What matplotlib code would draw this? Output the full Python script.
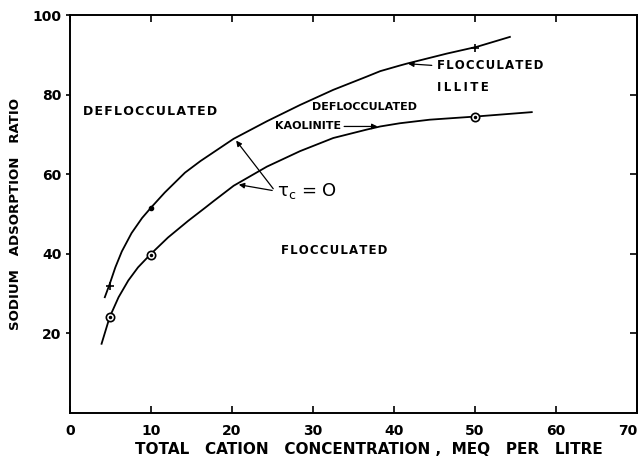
import matplotlib.pyplot as plt

# boundary curves (tau_c = 0)
illite_x = [4.3, 4.9, 5.6, 6.4, 7.6, 8.9, 10.0, 11.7, 14.2, 16.1, 20.2, 24.3, 28.4,
            32.5, 36.6, 38.3, 40.7, 41.6, 46.5, 50.2, 54.3]
illite_y = [29.1, 32.4, 36.6, 40.6, 45.2, 49.0, 51.6, 55.4, 60.4, 63.3, 68.9, 73.3, 77.4,
            81.2, 84.5, 85.9, 87.3, 87.8, 90.3, 92.0, 94.5]
kaolinite_x = [3.9, 4.9, 6.0, 7.2, 8.4, 9.9, 12.1, 14.6, 16.7, 17.7, 20.2, 24.3, 28.4,
               32.5, 36.6, 38.3, 40.7, 44.4, 50.1, 57.0]
kaolinite_y = [17.4, 24.1, 29.1, 33.3, 36.6, 39.8, 44.1, 48.3, 51.6, 53.2, 57.1, 61.9, 65.8,
               69.1, 71.2, 72.0, 72.8, 73.7, 74.5, 75.6]

# measured points
illite_plus_x = [5, 50]
illite_plus_y = [31.8, 91.6]
illite_dot_x = [10]
illite_dot_y = [51.6]
kaolinite_pts_x = [5, 10, 50]
kaolinite_pts_y = [24.1, 39.8, 74.5]

x_ticks = [0, 10, 20, 30, 40, 50, 60, 70]
y_ticks = [20, 40, 60, 80, 100]


def spaced(s, sep='\u200a'):
    # stencil lettering on the original is widely spaced
    return sep.join(s)


plt.rcParams['font.family'] = 'DejaVu Sans'
fig = plt.figure(figsize=(6.39, 4.62), dpi=100)
ax = fig.add_axes([0.1095, 0.106, 0.8875, 0.8615])

ax.plot(illite_x, illite_y, color='black', lw=1.3)
ax.plot(kaolinite_x, kaolinite_y, color='black', lw=1.3)
ax.plot(illite_plus_x, illite_plus_y, '+', color='black', ms=6, mew=1.2)
ax.plot(illite_dot_x, illite_dot_y, 'o', color='black', ms=3)
ax.plot(kaolinite_pts_x, kaolinite_pts_y, 'o', mfc='white', mec='black', ms=6, mew=1.2)
ax.plot(kaolinite_pts_x, kaolinite_pts_y, 'o', color='black', ms=1.5)

ax.set_xlim(0, 70)
ax.set_ylim(0, 100)
ax.set_xticks(x_ticks)
ax.set_yticks(y_ticks)
ax.tick_params(axis='x', direction='in', top=True, length=5, width=1.2, labelsize=10, pad=8)
ax.tick_params(axis='y', direction='out', length=3, width=1.2, labelsize=10, pad=3)
for lbl in ax.get_xticklabels() + ax.get_yticklabels():
    lbl.set_fontweight('bold')
ax.get_xticklabels()[-1].set_horizontalalignment('right')
# inward ticks on right side
ax2 = ax.secondary_yaxis('right')
ax2.set_yticks([20, 40, 60, 80])
ax2.tick_params(direction='in', length=5, width=1.2, labelright=False)
for s in ax.spines.values():
    s.set_linewidth(1.4)
ax2.spines['right'].set_linewidth(1.4)

ax.set_xlabel('TOTAL   CATION   CONCENTRATION ,  MEQ   PER   LITRE',
              fontsize=11, fontweight='bold', labelpad=3, x=0.527)
ax.set_ylabel('SODIUM   ADSORPTION   RATIO', fontsize=9.5, fontweight='bold', labelpad=8)

bold = dict(fontweight='bold', color='black', va='center')
ax.text(1.6, 75.8, spaced('DEFLOCCULATED'), fontsize=9, **bold)
ax.text(26.0, 40.8, spaced('FLOCCULATED'), fontsize=8.5, **bold)
ax.text(45.3, 87.2, spaced('FLOCCULATED'), fontsize=8.5, **bold)
ax.text(45.3, 81.7, spaced('ILLITE', '\u2009'), fontsize=8.5, **bold)
ax.text(29.9, 76.8, 'DEFLOCCULATED', fontsize=8, **bold)
ax.text(25.3, 72.0, 'KAOLINITE', fontsize=8, **bold)
ax.text(25.6, 55.7, r'τ$_{\rm c}$ = O', fontsize=13, va='center', color='black')

arrow = dict(arrowstyle='-|>', color='black', lw=0.9, mutation_scale=8)
ax.annotate('', xy=(20.3, 69.0), xytext=(25.3, 55.8), arrowprops=arrow)
ax.annotate('', xy=(20.5, 57.5), xytext=(25.3, 55.8), arrowprops=arrow)
ax.annotate('', xy=(38.3, 72.0), xytext=(33.5, 72.0), arrowprops=arrow)
ax.annotate('', xy=(41.4, 87.8), xytext=(45.0, 87.3), arrowprops=arrow)

fig.savefig('out.png', dpi=100)
